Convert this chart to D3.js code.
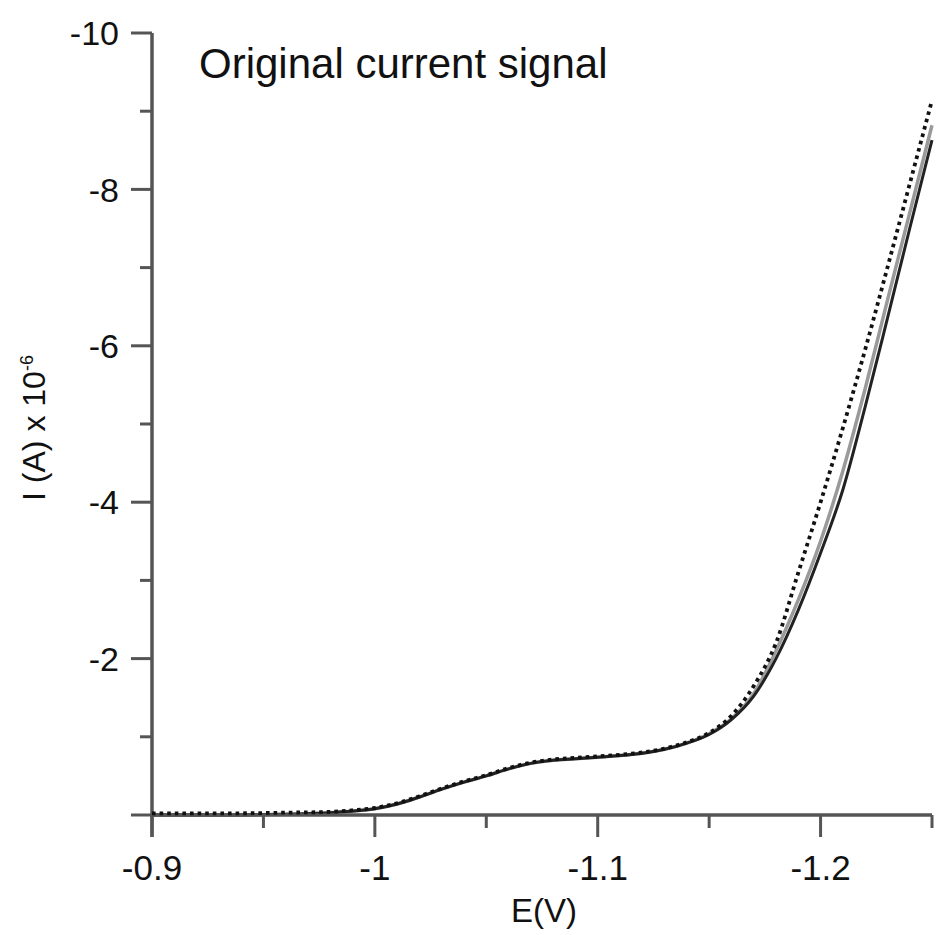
<!DOCTYPE html>
<html lang="en">
<head>
    <meta charset="UTF-8">
    <title>Original current signal</title>
    <script src="https://d3js.org/d3.v7.min.js"></script>
    <style>
        body { margin: 0; background: #fff; }
        text { font-family: "Liberation Sans", Arial, sans-serif; fill: #111; }
    </style>
</head>
<body>
<script>
    // potential (V) and the three current traces (x 10^-6 A)
    var potential = [-0.90, -0.93, -0.96, -0.98, -0.99, -1.00, -1.01, -1.02, -1.03, -1.04,
        -1.05, -1.06, -1.07, -1.08, -1.09, -1.10, -1.11, -1.12, -1.13, -1.14,
        -1.15, -1.16, -1.17, -1.18, -1.19, -1.20, -1.21, -1.22, -1.23, -1.24, -1.25];
    var dottedCurrent = [-0.02, -0.02, -0.03, -0.04, -0.06, -0.09, -0.15, -0.24, -0.34, -0.43,
        -0.51, -0.60, -0.67, -0.71, -0.73, -0.75, -0.77, -0.80, -0.85, -0.93,
        -1.05, -1.27, -1.65, -2.20, -3.10, -4.00, -4.95, -5.95, -7.00, -8.07, -9.14];
    var blackCurrent = [0.00, 0.00, -0.01, -0.03, -0.05, -0.08, -0.14, -0.23, -0.33, -0.42,
        -0.50, -0.59, -0.66, -0.70, -0.72, -0.74, -0.76, -0.79, -0.84, -0.92,
        -1.03, -1.22, -1.52, -2.00, -2.62, -3.35, -4.16, -5.22, -6.35, -7.50, -8.63];
    var grayCurrent = [0.00, 0.00, -0.01, -0.03, -0.05, -0.08, -0.14, -0.23, -0.33, -0.42,
        -0.50, -0.59, -0.66, -0.70, -0.72, -0.74, -0.76, -0.79, -0.84, -0.92,
        -1.04, -1.23, -1.55, -2.10, -2.75, -3.50, -4.40, -5.45, -6.58, -7.70, -8.82];

    var xMajor = [-0.9, -1, -1.1, -1.2];
    var xMinor = [-0.95, -1.05, -1.15, -1.25];
    var yMajor = [-10, -8, -6, -4, -2, 0];
    var yMinor = [-9, -7, -5, -3, -1];

    var width = 938, height = 935;
    var plotLeft = 152, plotRight = 932, plotTop = 33, plotBottom = 815;
    var axisColor = "#555";

    var x = d3.scaleLinear().domain([-0.9, -1.25]).range([plotLeft, plotRight]);
    var y = d3.scaleLinear().domain([0, -10]).range([plotBottom, plotTop]);

    var svg = d3.select("body").append("svg")
        .attr("width", width)
        .attr("height", height);

    // curves
    var line = d3.line()
        .x(function (d) { return x(d[0]); })
        .y(function (d) { return y(d[1]); })
        .curve(d3.curveMonotoneX);

    function pairs(values) {
        return potential.map(function (e, i) { return [e, values[i]]; });
    }

    svg.append("path")
        .attr("d", line(pairs(grayCurrent)))
        .attr("fill", "none")
        .attr("stroke", "#9a9a9a")
        .attr("stroke-width", 3.5);

    svg.append("path")
        .attr("d", line(pairs(blackCurrent)))
        .attr("fill", "none")
        .attr("stroke", "#222")
        .attr("stroke-width", 3);

    // y axis
    var yAxis = svg.append("g");
    yAxis.append("line")
        .attr("x1", plotLeft).attr("x2", plotLeft)
        .attr("y1", plotTop).attr("y2", plotBottom + 22)
        .attr("stroke", axisColor).attr("stroke-width", 3.5);
    yAxis.selectAll(".ymaj").data(yMajor).enter().append("line")
        .attr("x1", plotLeft - 21).attr("x2", plotLeft)
        .attr("y1", function (d) { return y(d); })
        .attr("y2", function (d) { return y(d); })
        .attr("stroke", axisColor).attr("stroke-width", 3);
    yAxis.selectAll(".ymin").data(yMinor).enter().append("line")
        .attr("x1", plotLeft - 12).attr("x2", plotLeft)
        .attr("y1", function (d) { return y(d); })
        .attr("y2", function (d) { return y(d); })
        .attr("stroke", axisColor).attr("stroke-width", 3);
    yAxis.selectAll(".ylab").data(yMajor.filter(function (d) { return d !== 0; })).enter().append("text")
        .attr("x", 119)
        .attr("y", function (d) { return y(d); })
        .attr("dy", "0.36em")
        .attr("text-anchor", "end")
        .attr("font-size", 34)
        .text(function (d) { return d; });

    // x axis
    var xAxis = svg.append("g");
    xAxis.append("line")
        .attr("x1", plotLeft).attr("x2", plotRight)
        .attr("y1", plotBottom).attr("y2", plotBottom)
        .attr("stroke", axisColor).attr("stroke-width", 3.5);
    xAxis.selectAll(".xmaj").data(xMajor).enter().append("line")
        .attr("x1", function (d) { return x(d); })
        .attr("x2", function (d) { return x(d); })
        .attr("y1", plotBottom).attr("y2", plotBottom + 22)
        .attr("stroke", axisColor).attr("stroke-width", 3);
    xAxis.selectAll(".xmin").data(xMinor).enter().append("line")
        .attr("x1", function (d) { return x(d); })
        .attr("x2", function (d) { return x(d); })
        .attr("y1", plotBottom).attr("y2", plotBottom + 13)
        .attr("stroke", axisColor).attr("stroke-width", 3);
    xAxis.selectAll(".xlab").data(xMajor).enter().append("text")
        .attr("x", function (d) { return x(d); })
        .attr("y", 880)
        .attr("text-anchor", "middle")
        .attr("font-size", 35)
        .text(function (d) { return d; });

    // dotted trace drawn over the axis line
    svg.append("path")
        .attr("d", line(pairs(dottedCurrent)))
        .attr("fill", "none")
        .attr("stroke", "#111")
        .attr("stroke-width", 3.8)
        .attr("stroke-dasharray", "3.6,4");

    // axis titles
    svg.append("text")
        .attr("x", 544)
        .attr("y", 922)
        .attr("text-anchor", "middle")
        .attr("font-size", 33)
        .text("E(V)");

    var ylab = svg.append("text")
        .attr("transform", "translate(45,428) rotate(-90)")
        .attr("text-anchor", "middle")
        .attr("font-size", 32);
    ylab.append("tspan").text("I (A) x 10");
    ylab.append("tspan")
        .attr("dy", -12)
        .attr("font-size", 18)
        .text("-6");

    // panel title
    svg.append("text")
        .attr("x", 199)
        .attr("y", 78)
        .attr("font-size", 42)
        .text("Original current signal");
</script>
</body>
</html>
